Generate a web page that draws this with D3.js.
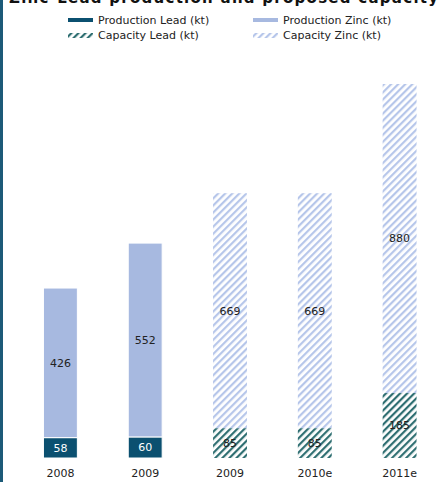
<!DOCTYPE html>
<html>
<head>
<meta charset="utf-8">
<script src="https://cdn.jsdelivr.net/npm/d3@7"></script>
<style>
  body { margin: 0; background: #fff; }
  svg { display: block; font-family: "DejaVu Sans", Verdana, sans-serif; }
</style>
</head>
<body>
<svg id="chart" width="448" height="482"></svg>
<script>
// data
var categories = ["2008", "2009", "2009", "2010e", "2011e"];
var lead = [58, 60, 85, 85, 185];
var zinc = [426, 552, 669, 669, 880];
var isCapacity = [false, false, true, true, true];
var legendLabels = ["Production Lead (kt)", "Production Zinc (kt)", "Capacity Lead (kt)", "Capacity Zinc (kt)"];

var svg = d3.select("#chart");
var width = 448, height = 482;

// colours
var leadColor = "#0b5070", zincColor = "#a7b9e0",
    leadHatch = "#2f6f72", zincHatch = "#b6c6ea";

// hatch patterns
var defs = svg.append("defs");
function hatch(id, color) {
  var p = defs.append("pattern")
      .attr("id", id)
      .attr("patternUnits", "userSpaceOnUse")
      .attr("width", 5).attr("height", 5)
      .attr("patternTransform", "rotate(45)");
  p.append("rect").attr("width", 5).attr("height", 5).attr("fill", "#fff");
  p.append("rect").attr("width", 2.2).attr("height", 5).attr("fill", color);
}
hatch("hatchLead", leadHatch);
hatch("hatchZinc", zincHatch);

// left border
svg.append("rect").attr("x", 0).attr("y", 0).attr("width", 3).attr("height", height).attr("fill", "#1c5a78");

// title (partly cut off at top)
svg.append("text")
    .attr("x", 9).attr("y", 3)
    .attr("font-size", 15).attr("font-weight", "bold")
    .attr("fill", "#111")
    .attr("textLength", 429)
    .text("Zinc-Lead production and proposed capacity");

// scales
var margin = {left: 18, right: 6, bottom: 24};
var x = d3.scaleBand()
    .domain(d3.range(categories.length))
    .range([margin.left, width - margin.right])
    .paddingInner(0.6).paddingOuter(0.3);
var y = d3.scaleLinear().domain([0, 1065]).range([458, 84]);

var g = svg.append("g");

var bars = g.selectAll(".bar")
  .data(categories.map(function(c, i) { return {cat: c, lead: lead[i], zinc: zinc[i], cap: isCapacity[i], i: i}; }))
  .enter().append("g").attr("class", "bar");

// lead segment
bars.append("rect")
    .attr("x", function(d) { return x(d.i); })
    .attr("width", x.bandwidth())
    .attr("y", function(d) { return y(d.lead); })
    .attr("height", function(d) { return y(0) - y(d.lead); })
    .attr("fill", function(d) { return d.cap ? "url(#hatchLead)" : leadColor; })
    .attr("stroke", "#fff").attr("stroke-width", function(d) { return d.cap ? 0 : 1; });

// zinc segment
bars.append("rect")
    .attr("x", function(d) { return x(d.i); })
    .attr("width", x.bandwidth())
    .attr("y", function(d) { return y(d.lead + d.zinc); })
    .attr("height", function(d) { return y(d.lead) - y(d.lead + d.zinc); })
    .attr("fill", function(d) { return d.cap ? "url(#hatchZinc)" : zincColor; })
    .attr("stroke", "#fff").attr("stroke-width", function(d) { return d.cap ? 0 : 1; });

// value labels
bars.append("text")
    .attr("x", function(d) { return x(d.i) + x.bandwidth() / 2; })
    .attr("y", function(d) { return (y(0) + y(d.lead)) / 2; })
    .attr("dy", "0.36em")
    .attr("text-anchor", "middle")
    .attr("font-size", 11)
    .attr("fill", function(d) { return d.cap ? "#222" : "#fff"; })
    .text(function(d) { return d.lead; });

bars.append("text")
    .attr("x", function(d) { return x(d.i) + x.bandwidth() / 2; })
    .attr("y", function(d) { return (y(d.lead) + y(d.lead + d.zinc)) / 2; })
    .attr("dy", "0.36em")
    .attr("text-anchor", "middle")
    .attr("font-size", 11)
    .attr("fill", "#222")
    .text(function(d) { return d.zinc; });

// x axis labels
var xAxis = svg.append("g")
    .attr("transform", "translate(0,466)")
    .call(d3.axisBottom(x).tickSize(0).tickFormat(function(i) { return categories[i]; }));
xAxis.select(".domain").remove();
xAxis.selectAll("text").attr("font-size", 11).attr("font-family", "DejaVu Sans, Verdana, sans-serif").attr("fill", "#222");

// legend
var legendFills = [leadColor, zincColor, "url(#hatchLead)", "url(#hatchZinc)"];
var legendPos = [[68, 20], [253, 20], [68, 35], [253, 35]];
var leg = svg.append("g").selectAll("g")
  .data(legendLabels).enter().append("g")
    .attr("transform", function(d, i) { return "translate(" + legendPos[i][0] + "," + legendPos[i][1] + ")"; });
leg.append("rect")
    .attr("x", 0).attr("y", -2).attr("width", 25).attr("height", function(d, i) { return i < 2 ? 4 : 5; })
    .attr("fill", function(d, i) { return legendFills[i]; });
leg.append("text")
    .attr("x", 30).attr("dy", "0.36em")
    .attr("font-size", 11).attr("fill", "#222")
    .text(function(d) { return d; });
</script>
</body>
</html>
